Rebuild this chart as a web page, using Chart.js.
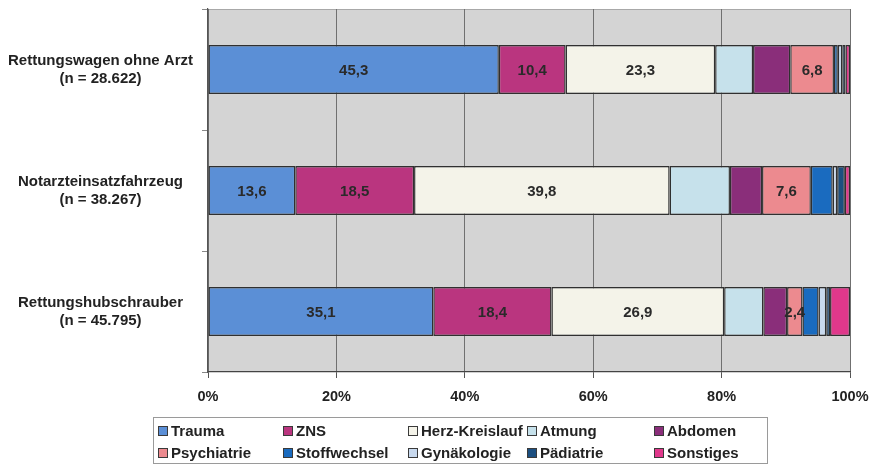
<!DOCTYPE html>
<html lang="de">
<head>
<meta charset="utf-8">
<title>Einsatzanlass nach Rettungsmittel</title>
<script src="https://cdn.jsdelivr.net/npm/chart.js@4/dist/chart.umd.min.js"></script>
<style>
  html, body { margin: 0; padding: 0; background: #ffffff; }
  #wrap { width: 869px; height: 466px; position: relative; }
</style>
</head>
<body>
<div id="wrap"><canvas id="chart" width="869" height="466"></canvas></div>
<script>
// Rettungsmittel (two-line axis labels)
const categories = [
  ['Rettungswagen ohne Arzt', '(n = 28.622)'],
  ['Notarzteinsatzfahrzeug', '(n = 38.267)'],
  ['Rettungshubschrauber', '(n = 45.795)']
];

// Anteil je Einsatzanlass in %, in der Reihenfolge der Kategorien
const trauma        = [45.3, 13.6, 35.1];
const zns           = [10.4, 18.5, 18.4];
const herzKreislauf = [23.3, 39.8, 26.9];
const atmung        = [5.9, 9.4, 6.1];
const abdomen       = [5.8, 5.0, 3.7];
const psychiatrie   = [6.8, 7.6, 2.4];
const stoffwechsel  = [0.6, 3.4, 2.5];
const gynaekologie  = [0.7, 0.7, 1.2];
const paediatrie    = [0.5, 1.2, 0.6];
const sonstiges     = [0.7, 0.8, 3.1];

const seriesNames  = ['Trauma', 'ZNS', 'Herz-Kreislauf', 'Atmung', 'Abdomen',
                      'Psychiatrie', 'Stoffwechsel', 'Gynäkologie', 'Pädiatrie', 'Sonstiges'];
const seriesValues = [trauma, zns, herzKreislauf, atmung, abdomen,
                      psychiatrie, stoffwechsel, gynaekologie, paediatrie, sonstiges];
const seriesColors = ['#5b8fd6', '#ba357f', '#f4f3e9', '#c6e1eb', '#8a2e7a',
                      '#ec8a8f', '#1a6bbf', '#c8d9ee', '#1c4f80', '#e0388b'];

// Segments that carry a value label
const labelledSeries = ['Trauma', 'ZNS', 'Herz-Kreislauf', 'Psychiatrie'];

// Axis ticks
const xTickValues = [0, 20, 40, 60, 80, 100];

const FONT = '"Liberation Sans", Arial, sans-serif';
const TEXT = '#222222';

const datasets = seriesNames.map((name, i) => ({
  label: name,
  data: seriesValues[i],
  backgroundColor: seriesColors[i],
  borderColor: '#303030',
  borderWidth: 1.4,
  borderSkipped: false,
  categoryPercentage: 1.0,
  barPercentage: 0.405
}));

// Grey plot background with a light top edge
const plotBackground = {
  id: 'plotBackground',
  beforeDraw(chart) {
    const { ctx, chartArea: a } = chart;
    ctx.save();
    ctx.fillStyle = '#d4d4d4';
    ctx.fillRect(a.left, a.top, a.right - a.left, a.bottom - a.top);
    ctx.strokeStyle = '#a8a8a8';
    ctx.lineWidth = 1;
    ctx.beginPath();
    ctx.moveTo(a.left, a.top + 0.5);
    ctx.lineTo(a.right, a.top + 0.5);
    ctx.stroke();
    ctx.restore();
  }
};

// Value labels centred in the selected segments
const segmentLabels = {
  id: 'segmentLabels',
  afterDatasetsDraw(chart) {
    const { ctx } = chart;
    ctx.save();
    ctx.font = 'bold 15px ' + FONT;
    ctx.fillStyle = '#2a2a2a';
    ctx.textAlign = 'center';
    ctx.textBaseline = 'middle';
    chart.data.datasets.forEach((ds, di) => {
      if (!labelledSeries.includes(ds.label)) return;
      const meta = chart.getDatasetMeta(di);
      meta.data.forEach((bar, i) => {
        const v = ds.data[i];
        const cx = (bar.x + bar.base) / 2;
        ctx.fillText(v.toFixed(1).replace('.', ','), cx, bar.y + 1);
      });
    });
    ctx.restore();
  }
};

// Boxed legend in a 5-column grid below the axis
const gridLegend = {
  id: 'gridLegend',
  afterDraw(chart) {
    const { ctx } = chart;
    const box = { x: 153.5, y: 417.5, w: 614, h: 46 };
    const cols = [158, 283, 408, 527, 654];
    const rows = [431, 453];
    ctx.save();
    ctx.strokeStyle = '#9a9a9a';
    ctx.lineWidth = 1;
    ctx.strokeRect(box.x, box.y, box.w, box.h);
    ctx.font = 'bold 15px ' + FONT;
    ctx.textBaseline = 'middle';
    ctx.textAlign = 'left';
    chart.data.datasets.forEach((ds, i) => {
      const x = cols[i % 5];
      const y = rows[Math.floor(i / 5)];
      ctx.fillStyle = ds.backgroundColor;
      ctx.fillRect(x, y - 5, 10, 10);
      ctx.strokeStyle = '#3a3a3a';
      ctx.strokeRect(x + 0.5, y - 4.5, 9, 9);
      ctx.fillStyle = TEXT;
      ctx.fillText(ds.label, x + 13, y + 1);
    });
    ctx.restore();
  }
};

new Chart(document.getElementById('chart'), {
  type: 'bar',
  data: { labels: categories, datasets },
  options: {
    indexAxis: 'y',
    responsive: false,
    animation: false,
    maintainAspectRatio: false,
    layout: { padding: { left: 0, right: 19, top: 9, bottom: 60 } },
    plugins: {
      legend: { display: false },
      tooltip: { enabled: false }
    },
    scales: {
      x: {
        stacked: true,
        min: 0,
        max: 100,
        afterBuildTicks(scale) {
          scale.ticks = xTickValues.map(v => ({ value: v }));
        },
        afterFit(scale) {
          scale.height = 34;
          scale.paddingLeft = 0;
          scale.paddingRight = 0;
        },
        grid: {
          color: '#707070',
          lineWidth: 1,
          tickLength: 6,
          tickColor: '#555555',
          drawOnChartArea: true
        },
        border: { display: true, color: '#444444', width: 1.2 },
        ticks: {
          padding: 10,
          color: TEXT,
          font: { family: FONT, size: 14.5, weight: 'bold' },
          callback: v => v + '%'
        }
      },
      y: {
        stacked: true,
        afterFit(scale) {
          scale.width = 208;
          scale.paddingTop = 0;
          scale.paddingBottom = 0;
        },
        grid: {
          drawOnChartArea: false,
          tickLength: 6,
          tickColor: '#888888'
        },
        border: { display: true, color: '#555555', width: 1.2 },
        ticks: {
          crossAlign: 'center',
          padding: 9,
          color: TEXT,
          font: { family: FONT, size: 15, weight: 'bold', lineHeight: 1.2 }
        }
      }
    }
  },
  plugins: [plotBackground, segmentLabels, gridLegend]
});
</script>
</body>
</html>
